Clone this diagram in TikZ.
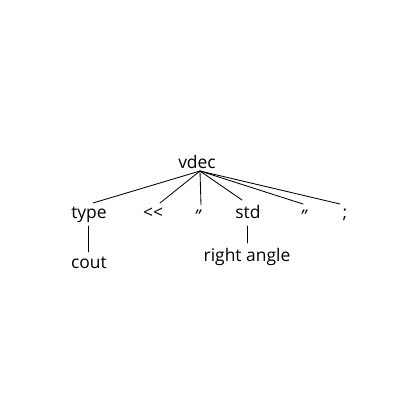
\documentclass[tikz,border=0pt]{standalone}
\usepackage{fontspec}
\setmainfont[Ligatures=NoCommon]{Open Sans}
\usetikzlibrary{calc}
\begin{document}
\begin{tikzpicture}[x=1bp,y=-1bp,
  lbl/.style={font=\fontsize{17.5}{20}\selectfont, inner sep=0pt, anchor=base},
  edge/.style={line width=0.85pt, line cap=round}]
\useasboundingbox (0,0) rectangle (420,420);
\node[lbl] (vdec) at (197,168) {vdec};
\node[lbl] (type) at (89,218) {type};
\node[lbl] (lt) at (153,218) {{<}{<}};
\node[lbl] (q1) at (198,218) {\raisebox{-5pt}{\textit{"}}};
\node[lbl] (std) at (248,218) {std};
\node[lbl] (q2) at (304,218) {\raisebox{-5pt}{\textit{"}}};
\node[lbl] (semi) at (345,218) {;};
\node[lbl] (cout) at (89,268) {cout};
\node[lbl] (ra) at (247,261) {right angle};
\coordinate (apex) at ($(vdec.base)+(3,3)$);
\draw[edge] (apex) -- ($(type.base)+(4,-15)$);
\draw[edge] (apex) -- ($(lt.base)+(7,-15)$);
\draw[edge] (apex) -- ($(q1.base)+(3,-13)$);
\draw[edge] (apex) -- ($(std.base)+(-6,-18)$);
\draw[edge] (apex) -- ($(q2.base)+(-1,-14)$);
\draw[edge] (apex) -- ($(semi.base)+(-5,-14)$);
\draw[edge] ($(type.base)+(-1,8)$) -- ($(cout.base)+(-1,-16)$);
\draw[edge] ($(std.base)+(-1,8)$) -- ($(ra.base)+(0,-18)$);
\end{tikzpicture}
\end{document}
